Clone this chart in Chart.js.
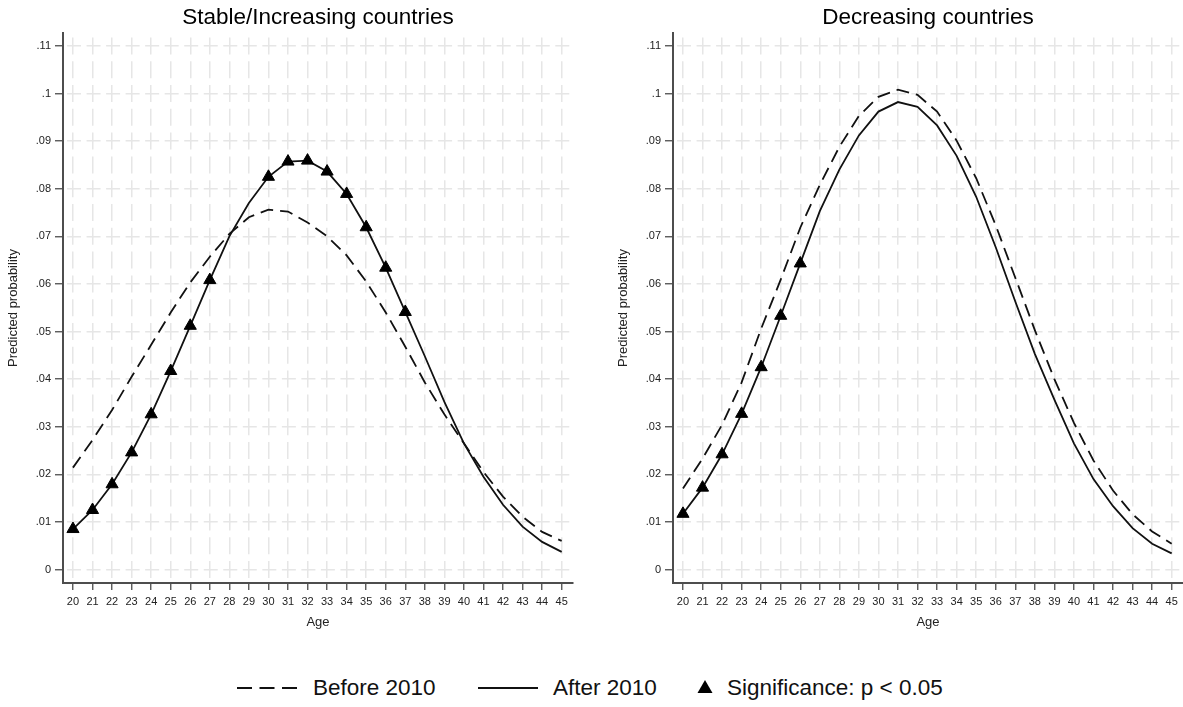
<!DOCTYPE html>
<html>
<head>
<meta charset="utf-8">
<title>Predicted probability by age</title>
<script src="https://cdn.jsdelivr.net/npm/chart.js@4.4.1/dist/chart.umd.min.js"></script>
<style>
  html, body { margin: 0; padding: 0; background: #fff; }
  body { width: 1183px; height: 707px; position: relative; overflow: hidden;
         font-family: "Liberation Sans", Arial, sans-serif; }
  canvas { position: absolute; top: 0; }
  #stable { left: 0; }
  #decreasing { left: 610px; }
  .legend-item { position: absolute; top: 675px; height: 26px; line-height: 26px;
                 font-size: 22.5px; color: #111; white-space: nowrap; }
  .legend-key { position: absolute; top: 679px; }
</style>
</head>
<body>
<canvas id="stable" width="590" height="640"></canvas>
<canvas id="decreasing" width="573" height="640"></canvas>

<svg class="legend-key" style="left:237px" width="62" height="18">
  <line x1="0" y1="9" x2="60" y2="9" stroke="#111" stroke-width="2" stroke-dasharray="15 7.5"/>
</svg>
<span class="legend-item" style="left:313px">Before 2010</span>
<svg class="legend-key" style="left:478px" width="62" height="18">
  <line x1="0" y1="9" x2="60" y2="9" stroke="#111" stroke-width="2"/>
</svg>
<span class="legend-item" style="left:553px">After 2010</span>
<svg class="legend-key" style="left:697px" width="18" height="18">
  <polygon points="8,1 15.5,14 0.5,14" fill="#000"/>
</svg>
<span class="legend-item" style="left:727px">Significance: p &lt; 0.05</span>

<script>
// Ages on the horizontal axis
const ages = [20, 21, 22, 23, 24, 25, 26, 27, 28, 29, 30, 31, 32, 33, 34, 35, 36, 37, 38, 39, 40, 41, 42, 43, 44, 45];

// Vertical axis ticks and their labels
const yTickValues = [0, 0.01, 0.02, 0.03, 0.04, 0.05, 0.06, 0.07, 0.08, 0.09, 0.10, 0.11];
const yTickLabels = ['0', '.01', '.02', '.03', '.04', '.05', '.06', '.07', '.08', '.09', '.1', '.11'];

// Stable/Increasing countries
const stableBefore = [0.0214, 0.0272, 0.0335, 0.0405, 0.0472, 0.0540, 0.0603, 0.0657, 0.0705, 0.0740,
                      0.0756, 0.0752, 0.0729, 0.0700, 0.0660, 0.0605, 0.0540, 0.0468, 0.0393, 0.0326,
                      0.0265, 0.0205, 0.0153, 0.0111, 0.0079, 0.0060];
const stableAfter  = [0.0085, 0.0125, 0.0179, 0.0246, 0.0326, 0.0417, 0.0512, 0.0608, 0.0700, 0.0770,
                      0.0825, 0.0857, 0.0859, 0.0836, 0.0789, 0.0719, 0.0634, 0.0541, 0.0448, 0.0352,
                      0.0265, 0.0195, 0.0136, 0.0090, 0.0058, 0.0037];
const stableSignificant = [20, 21, 22, 23, 24, 25, 26, 27, 30, 31, 32, 33, 34, 35, 36, 37];

// Decreasing countries
const decreasingBefore = [0.0170, 0.0233, 0.0304, 0.0393, 0.0506, 0.0609, 0.0718, 0.0808, 0.0888, 0.0953,
                          0.0993, 0.1008, 0.0997, 0.0962, 0.0901, 0.0822, 0.0723, 0.0613, 0.0503, 0.0400,
                          0.0308, 0.0229, 0.0166, 0.0116, 0.0080, 0.0054];
const decreasingAfter  = [0.0117, 0.0172, 0.0242, 0.0327, 0.0425, 0.0533, 0.0643, 0.0753, 0.0840, 0.0912,
                          0.0962, 0.0982, 0.0972, 0.0933, 0.0869, 0.0783, 0.0677, 0.0563, 0.0453, 0.0357,
                          0.0265, 0.0190, 0.0133, 0.0087, 0.0054, 0.0034];
const decreasingSignificant = [20, 21, 22, 23, 24, 25, 26];

const fontFamily = '"Liberation Sans", Arial, sans-serif';
const axisColor = '#4d4d4d';
const gridColor = '#e6e6e6';

function panelDatasets(before, after, significant) {
  return [
    {
      label: 'Before 2010',
      data: ages.map((a, i) => ({ x: a, y: before[i] })),
      borderColor: '#111',
      borderWidth: 1.8,
      borderDash: [13, 7],
      pointRadius: 0,
      tension: 0,
      fill: false
    },
    {
      label: 'After 2010',
      data: ages.map((a, i) => ({ x: a, y: after[i] })),
      borderColor: '#111',
      borderWidth: 1.8,
      pointStyle: 'triangle',
      pointRadius: ages.map(a => significant.includes(a) ? 7 : 0),
      pointBackgroundColor: '#000',
      pointBorderColor: '#000',
      pointBorderWidth: 1,
      tension: 0,
      fill: false
    }
  ];
}

function panelOptions(titleText, rightPad) {
  return {
    responsive: false,
    animation: false,
    devicePixelRatio: 1,
    layout: { autoPadding: false, padding: { left: 0, right: rightPad, top: 0, bottom: 0 } },
    plugins: {
      legend: { display: false },
      tooltip: { enabled: false },
      title: {
        display: true,
        text: titleText,
        fullSize: false,
        color: '#000',
        font: { family: fontFamily, size: 22.5, weight: 'normal' },
        padding: { top: 4, bottom: 2 }
      }
    },
    scales: {
      x: {
        type: 'linear',
        min: 19.49,
        max: 45.58,
        afterBuildTicks: s => { s.ticks = ages.map(v => ({ value: v })); },
        afterFit: s => { s.height = 57; s.paddingLeft = 0; s.paddingRight = 0; },
        ticks: {
          autoSkip: false, maxRotation: 0, minRotation: 0, padding: 5,
          color: '#222', font: { family: fontFamily, size: 11 },
          callback: v => String(v)
        },
        grid: {
          color: gridColor, lineWidth: 1.5, drawTicks: true, tickLength: 7,
          tickColor: axisColor, tickWidth: 1.3
        },
        border: { display: true, color: axisColor, width: 2, dash: [17, 6.8], dashOffset: 19.4 },
        title: {
          display: true, text: 'Age', color: '#222',
          font: { family: fontFamily, size: 13 },
          padding: { top: 0, bottom: 10 }
        }
      },
      y: {
        type: 'linear',
        min: -0.002836,
        max: 0.11271,
        afterBuildTicks: s => { s.ticks = yTickValues.map(v => ({ value: v })); },
        afterFit: s => { s.width = 63; s.paddingTop = 0; s.paddingBottom = 0; },
        ticks: {
          padding: 4, color: '#222', font: { family: fontFamily, size: 11 },
          callback: (v, i) => yTickLabels[i]
        },
        grid: {
          color: gridColor, lineWidth: 1.5, drawTicks: true, tickLength: 8,
          tickColor: axisColor, tickWidth: 1.3
        },
        border: { display: true, color: axisColor, width: 2, dash: [14, 5.53], dashOffset: 16.5 },
        title: {
          display: true, text: 'Predicted probability', color: '#222',
          font: { family: fontFamily, size: 13 },
          padding: { top: 6, bottom: 0 }
        }
      }
    }
  };
}

new Chart(document.getElementById('stable'), {
  type: 'line',
  data: { datasets: panelDatasets(stableBefore, stableAfter, stableSignificant) },
  options: panelOptions('Stable/Increasing countries', 17)
});

new Chart(document.getElementById('decreasing'), {
  type: 'line',
  data: { datasets: panelDatasets(decreasingBefore, decreasingAfter, decreasingSignificant) },
  options: panelOptions('Decreasing countries', 0)
});
</script>
</body>
</html>
